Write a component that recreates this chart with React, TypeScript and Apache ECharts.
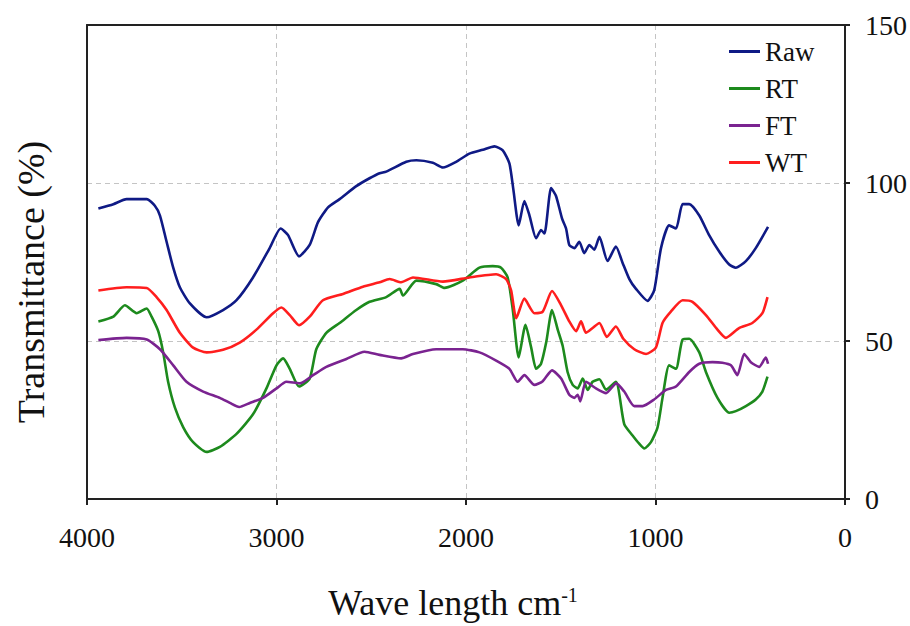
import React, { useEffect, useRef } from "react";
import * as echarts from "echarts";

const seriesNames = ["Raw", "RT", "FT", "WT"];
const xTicks = [0, 1000, 2000, 3000, 4000];
const yTicks = [0, 50, 100, 150];

const rawWn = [3940, 3861, 3791, 3685, 3642, 3615, 3580, 3545, 3510, 3457, 3369, 3282, 3211, 3124, 3036, 2978, 2939, 2881, 2825, 2781, 2728, 2667, 2579, 2509, 2456, 2421, 2315, 2262, 2175, 2122, 2052, 1982, 1911, 1850, 1806, 1771, 1750, 1722, 1692, 1665, 1630, 1604, 1586, 1551, 1525, 1493, 1472, 1455, 1428, 1402, 1376, 1349, 1323, 1296, 1253, 1209, 1174, 1138, 1103, 1042, 1007, 971, 928, 892, 857, 822, 769, 717, 664, 611, 576, 523, 471, 406];
const rawT = [91.9, 93.3, 94.9, 94.9, 92.8, 89.7, 81.4, 73.2, 67.0, 61.9, 57.5, 59.8, 62.9, 70.1, 79.4, 85.6, 83.5, 76.8, 80.4, 87.6, 92.3, 94.9, 99.0, 101.5, 103.1, 103.6, 106.7, 107.2, 106.4, 104.9, 106.7, 109.3, 110.5, 111.6, 110.3, 106.2, 97.9, 86.6, 94.3, 89.7, 82.5, 85.1, 84.0, 98.4, 95.9, 88.7, 85.6, 80.4, 79.4, 81.4, 77.8, 80.4, 78.9, 83.0, 75.3, 79.9, 74.8, 69.6, 66.5, 62.7, 66.0, 79.4, 86.6, 85.6, 93.3, 93.3, 89.7, 83.5, 78.3, 74.2, 73.2, 75.3, 79.4, 86.1];

const rtWn = [3940, 3861, 3800, 3738, 3685, 3659, 3624, 3598, 3572, 3536, 3492, 3440, 3369, 3299, 3211, 3124, 3053, 3000, 2965, 2930, 2881, 2825, 2790, 2737, 2667, 2579, 2509, 2421, 2350, 2333, 2262, 2157, 2113, 2017, 1929, 1859, 1815, 1780, 1753, 1722, 1686, 1656, 1630, 1604, 1577, 1546, 1516, 1490, 1464, 1437, 1411, 1384, 1358, 1332, 1296, 1261, 1209, 1165, 1121, 1086, 1059, 1024, 989, 963, 928, 892, 857, 822, 769, 734, 673, 611, 576, 523, 471, 436, 409];
const rtT = [56.2, 57.7, 61.3, 58.8, 60.3, 57.7, 53.1, 46.4, 37.1, 28.9, 22.7, 18.0, 14.9, 16.5, 20.6, 26.8, 35.0, 42.3, 44.5, 41.2, 35.6, 38.1, 47.4, 52.6, 55.7, 59.8, 62.4, 63.9, 66.5, 64.4, 69.1, 68.0, 66.8, 69.1, 73.2, 73.7, 73.2, 70.1, 59.8, 44.8, 55.1, 47.9, 41.2, 42.8, 49.5, 59.8, 53.6, 48.5, 40.2, 36.1, 35.0, 38.1, 34.5, 37.1, 37.9, 34.6, 37.1, 23.7, 20.1, 17.5, 16.0, 18.0, 22.7, 32.0, 42.3, 41.2, 50.5, 50.7, 46.4, 40.2, 32.0, 27.3, 27.8, 29.4, 31.5, 34.0, 38.7];

const ftWn = [3940, 3791, 3685, 3615, 3545, 3475, 3387, 3299, 3246, 3197, 3141, 3071, 3000, 2948, 2877, 2807, 2737, 2631, 2535, 2456, 2342, 2280, 2157, 2017, 1929, 1841, 1771, 1727, 1692, 1639, 1595, 1546, 1498, 1455, 1428, 1411, 1397, 1367, 1314, 1261, 1207, 1165, 1112, 1068, 1007, 945, 892, 822, 769, 699, 647, 602, 568, 532, 497, 453, 418, 406];
const ftT = [50.3, 51.0, 50.5, 47.4, 42.3, 37.1, 34.0, 32.0, 30.4, 29.1, 30.4, 32.0, 35.0, 37.1, 36.6, 39.2, 41.8, 44.3, 46.6, 45.6, 44.5, 45.9, 47.4, 47.4, 46.4, 43.8, 41.2, 37.1, 39.2, 36.1, 37.3, 40.7, 38.1, 33.0, 32.0, 33.0, 30.9, 37.1, 35.0, 33.5, 36.6, 34.0, 29.4, 29.4, 31.5, 34.5, 35.6, 40.2, 42.8, 43.3, 43.1, 42.3, 39.2, 45.9, 43.3, 41.8, 44.8, 42.8];

const wtWn = [3940, 3791, 3685, 3633, 3580, 3510, 3440, 3369, 3282, 3194, 3106, 3018, 2974, 2930, 2881, 2825, 2755, 2649, 2544, 2456, 2403, 2342, 2280, 2122, 1982, 1841, 1788, 1762, 1735, 1692, 1639, 1595, 1546, 1498, 1455, 1419, 1393, 1367, 1332, 1296, 1257, 1209, 1170, 1112, 1050, 998, 963, 919, 857, 805, 734, 673, 629, 559, 489, 436, 409];
const wtT = [66.0, 67.0, 66.8, 63.9, 59.8, 52.6, 47.9, 46.4, 47.2, 49.5, 53.6, 58.8, 60.6, 58.2, 55.0, 57.7, 62.9, 64.9, 67.2, 68.6, 69.6, 68.6, 70.1, 68.8, 70.1, 71.1, 69.6, 66.0, 57.2, 63.4, 58.8, 59.3, 65.8, 61.3, 56.2, 53.1, 56.2, 52.6, 54.1, 55.7, 51.3, 54.6, 50.7, 47.4, 45.9, 47.9, 55.7, 59.3, 62.9, 62.4, 58.2, 53.6, 51.0, 54.1, 55.7, 58.8, 63.9];

const colors = ["#0f1a85", "#1d8a1d", "#7a2390", "#ff1e1e"];
const FONT = "Liberation Serif";

function pairs(xs: number[], ys: number[]) {
  return xs.map((x, i) => [x, ys[i]]);
}

const frameLine = { show: true, onZero: false, lineStyle: { color: "#222", width: 2 } };
const dashed = { show: true, lineStyle: { color: "#c4c4c4", type: [5, 4], width: 1 } };

export default function App() {
  const ref = useRef<HTMLDivElement>(null);
  useEffect(() => {
    if (!ref.current) return;
    const chart = echarts.init(ref.current, undefined, { renderer: "svg" });
    const datasets = [pairs(rawWn, rawT), pairs(rtWn, rtT), pairs(ftWn, ftT), pairs(wtWn, wtT)];
    chart.setOption({
      animation: false,
      backgroundColor: "#ffffff",
      textStyle: { fontFamily: FONT },
      grid: { left: 87, right: 64, top: 25, bottom: 116 },
      legend: {
        orient: "vertical",
        left: 724,
        top: 33,
        itemWidth: 31,
        itemHeight: 3,
        itemGap: 10,
        icon: "rect",
        data: seriesNames,
        textStyle: { fontFamily: FONT, fontSize: 27, color: "#111", lineHeight: 27 },
      },
      xAxis: [
        {
          type: "value",
          min: xTicks[0],
          max: xTicks[xTicks.length - 1],
          interval: 1000,
          inverse: true,
          axisLine: frameLine,
          axisTick: { show: true, inside: false, length: 6, lineStyle: { color: "#222", width: 2 } },
          splitLine: dashed,
          axisLabel: {
            fontFamily: FONT,
            fontSize: 28,
            color: "#111",
            margin: 24,
            formatter: (v: number) => String(v),
          },
          name: "Wave length cm{sup|-1}",
          nameLocation: "middle",
          nameGap: 86,
          nameTextStyle: {
            fontFamily: FONT,
            fontSize: 36,
            color: "#111",
            padding: [0, 26, 0, 0],
            rich: {
              sup: { fontFamily: FONT, fontSize: 20, color: "#111", verticalAlign: "top", lineHeight: 20 },
            },
          },
        },
        {
          type: "value",
          position: "top",
          min: xTicks[0],
          max: xTicks[xTicks.length - 1],
          interval: 1000,
          inverse: true,
          axisLine: frameLine,
          axisTick: { show: false },
          axisLabel: { show: false },
          splitLine: { show: false },
        },
      ],
      yAxis: [
        {
          type: "value",
          position: "right",
          min: yTicks[0],
          max: yTicks[yTicks.length - 1],
          interval: 50,
          axisLine: frameLine,
          axisTick: { show: true, inside: false, length: 5, lineStyle: { color: "#222", width: 2 } },
          splitLine: dashed,
          axisLabel: {
            fontFamily: FONT,
            fontSize: 28,
            color: "#111",
            margin: 20,
            formatter: (v: number) => String(v),
          },
        },
        {
          type: "value",
          position: "left",
          min: yTicks[0],
          max: yTicks[yTicks.length - 1],
          interval: 50,
          axisLine: frameLine,
          axisTick: { show: false },
          axisLabel: { show: false },
          splitLine: { show: false },
        },
      ],
      graphic: [
        {
          type: "text",
          x: 31,
          y: 282,
          rotation: Math.PI / 2,
          style: {
            text: "Transmittance (%)",
            fontFamily: FONT,
            fontSize: 38,
            fill: "#111",
            textAlign: "center",
            textVerticalAlign: "middle",
          },
        },
      ],
      series: seriesNames.map((name, i) => ({
        name,
        type: "line",
        data: datasets[i],
        showSymbol: false,
        symbol: "none",
        smooth: 0.2,
        color: colors[i],
        itemStyle: { color: colors[i] },
        lineStyle: { color: colors[i], width: 2.6 },
        z: 3,
      })),
    });
    return () => chart.dispose();
  }, []);
  return (
    <div
      ref={ref}
      style={{ position: "absolute", left: 0, top: 0, width: 910, height: 626, background: "#fff" }}
    />
  );
}
